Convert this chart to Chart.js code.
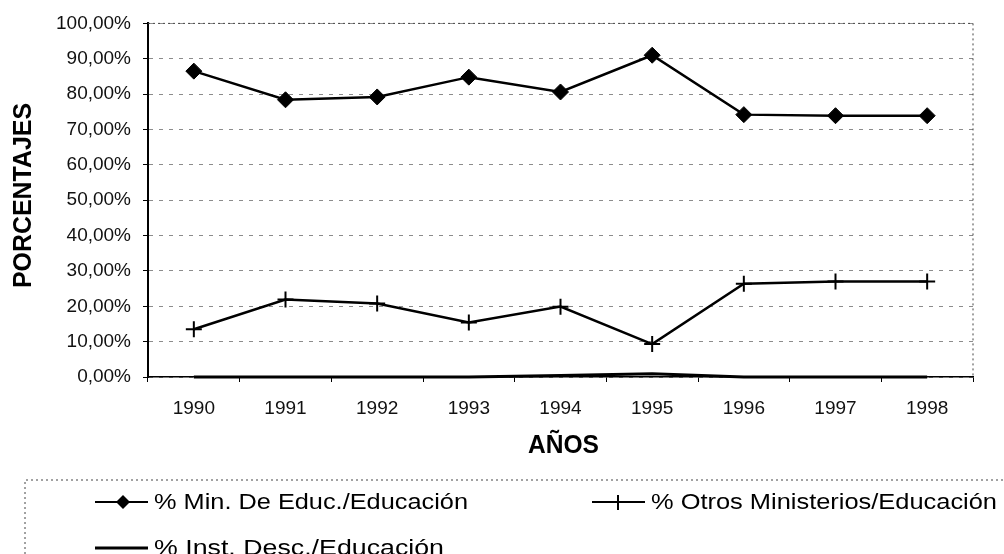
<!DOCTYPE html>
<html>
<head>
<meta charset="utf-8">
<script src="https://cdn.jsdelivr.net/npm/chart.js@4.4.0/dist/chart.umd.min.js"></script>
<style>
  html, body { margin: 0; padding: 0; background: #fff; }
</style>
</head>
<body>
<canvas id="grafico" width="1004" height="554"></canvas>
<script>
// Datos
const anios = ['1990', '1991', '1992', '1993', '1994', '1995', '1996', '1997', '1998'];
const minEduc = [86.5, 78.4, 79.2, 84.8, 80.6, 91.0, 74.2, 73.9, 73.9];
const otrosMin = [13.5, 21.9, 20.8, 15.4, 19.9, 9.3, 26.4, 27.0, 27.0];
const instDesc = [0, 0, 0, 0, 0.4, 0.9, 0, 0, 0];
const nombres = ['% Min. De Educ./Educación', '% Otros Ministerios/Educación', '% Inst. Desc./Educación'];
const tituloY = 'PORCENTAJES';
const tituloX = 'AÑOS';

const fuente = "'Liberation Sans', Arial, sans-serif";

// escribe un texto estirado para que ocupe el ancho dado
function texto(ctx, str, x, y, font, ancho, rot) {
  ctx.save();
  ctx.font = font;
  const w = ctx.measureText(str).width;
  ctx.translate(x, y);
  if (rot) ctx.rotate(rot);
  ctx.scale(ancho / w, 1);
  ctx.fillStyle = '#000';
  ctx.textBaseline = 'middle';
  ctx.textAlign = 'left';
  ctx.fillText(str, 0, 0);
  ctx.restore();
}

const extras = {
  id: 'extras',
  afterDraw(chart) {
    const ctx = chart.ctx;
    const a = chart.chartArea;
    ctx.save();
    // borde superior y derecho punteado
    ctx.strokeStyle = '#444';
    ctx.lineWidth = 1;
    ctx.setLineDash([2, 3]);
    ctx.beginPath();
    ctx.moveTo(a.left, a.top);
    ctx.lineTo(a.right, a.top);
    ctx.lineTo(a.right, a.bottom);
    ctx.stroke();
    // marco de la leyenda
    ctx.beginPath();
    ctx.moveTo(25, 554);
    ctx.lineTo(25, 480);
    ctx.lineTo(1004, 480);
    ctx.stroke();
    ctx.setLineDash([]);

    // titulos
    texto(ctx, tituloY, 24, 288, "bold 25px " + fuente, 185, -Math.PI / 2);
    texto(ctx, tituloX, 528, 446, "bold 25px " + fuente, 71);

    // leyenda
    ctx.strokeStyle = '#000';
    ctx.fillStyle = '#000';
    ctx.lineWidth = 2;
    ctx.beginPath();
    ctx.moveTo(95, 502); ctx.lineTo(148, 502);
    ctx.stroke();
    ctx.beginPath();
    ctx.moveTo(123, 495); ctx.lineTo(130, 502); ctx.lineTo(123, 509); ctx.lineTo(116, 502);
    ctx.closePath();
    ctx.fill();
    texto(ctx, nombres[0], 154, 503, "22px " + fuente, 314);

    ctx.beginPath();
    ctx.moveTo(592, 502); ctx.lineTo(645, 502);
    ctx.moveTo(618, 495); ctx.lineTo(618, 510);
    ctx.stroke();
    texto(ctx, nombres[1], 651, 503, "22px " + fuente, 346);

    ctx.lineWidth = 3;
    ctx.beginPath();
    ctx.moveTo(95, 548); ctx.lineTo(148, 548);
    ctx.stroke();
    texto(ctx, nombres[2], 154, 549, "22px " + fuente, 290);
    ctx.restore();
  }
};

new Chart(document.getElementById('grafico'), {
  type: 'line',
  data: {
    labels: anios,
    datasets: [
      {
        label: nombres[0],
        data: minEduc,
        borderColor: '#000',
        backgroundColor: '#000',
        borderWidth: 2.5,
        pointStyle: 'rectRot',
        pointRadius: 8,
        pointBorderWidth: 1,
        tension: 0
      },
      {
        label: nombres[1],
        data: otrosMin,
        borderColor: '#000',
        backgroundColor: '#000',
        borderWidth: 2.5,
        pointStyle: 'cross',
        pointRadius: 8,
        pointBorderWidth: 2,
        tension: 0
      },
      {
        label: nombres[2],
        data: instDesc,
        borderColor: '#000',
        borderWidth: 3,
        pointRadius: 0,
        clip: false,
        tension: 0
      }
    ]
  },
  options: {
    responsive: false,
    animation: false,
    events: [],
    layout: { padding: { top: 21, right: 31, left: 0, bottom: 0 } },
    plugins: {
      legend: { display: false },
      tooltip: { enabled: false }
    },
    scales: {
      x: {
        offset: true,
        grid: { display: true, drawOnChartArea: false, offset: true, tickLength: 5, tickColor: '#000' },
        border: { color: '#000', width: 1.5 },
        ticks: { color: '#111', font: { family: fuente, size: 19 }, padding: 15 },
        afterFit(scale) { scale.height = 177; }
      },
      y: {
        min: 0,
        max: 100,
        ticks: {
          stepSize: 10,
          color: '#111',
          font: { family: fuente, size: 19 },
          padding: 12,
          callback: v => v.toFixed(2).replace('.', ',') + '%'
        },
        grid: { color: 'rgba(0,0,0,0.45)', lineWidth: 1, tickLength: 5, tickColor: '#000' },
        border: { color: '#000', width: 2, dash: [4, 6] },
        afterFit(scale) { scale.width = 148; }
      }
    }
  },
  plugins: [extras]
});
</script>
</body>
</html>
